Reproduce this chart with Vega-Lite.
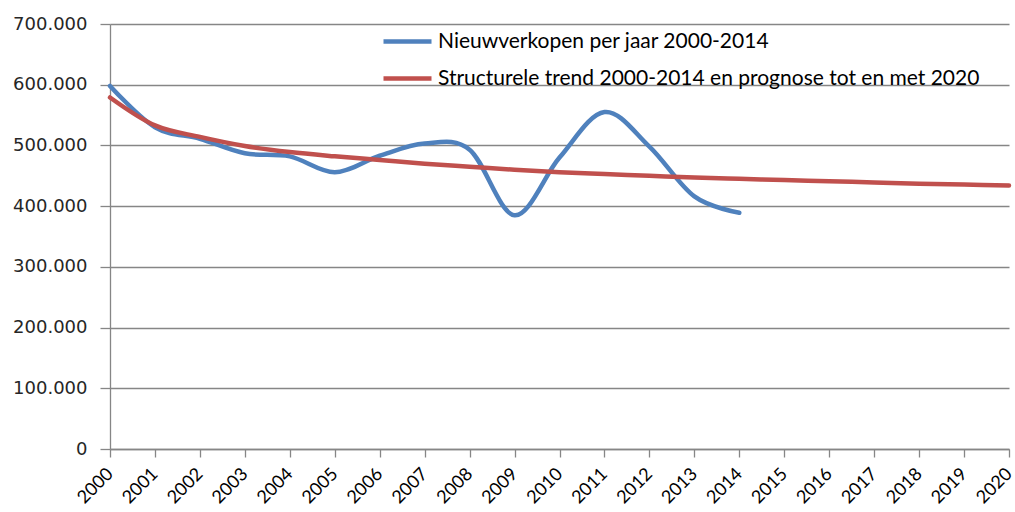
{
  "$schema": "https://vega.github.io/schema/vega-lite/v6.json",
  "autosize": "none",
  "width": 899,
  "height": 425,
  "padding": {"left": 110, "top": 24, "right": 6, "bottom": 63},
  "background": "white",
  "config": {
    "view": {"stroke": null},
    "locale": {"number": {"decimal": ",", "thousands": ".", "grouping": [3], "currency": ["€", ""]}}
  },
  "data": {
    "values": [
      {"year": 2000, "value": 598000, "series": "Nieuwverkopen per jaar 2000-2014"},
      {"year": 2001, "value": 530000, "series": "Nieuwverkopen per jaar 2000-2014"},
      {"year": 2002, "value": 511000, "series": "Nieuwverkopen per jaar 2000-2014"},
      {"year": 2003, "value": 487000, "series": "Nieuwverkopen per jaar 2000-2014"},
      {"year": 2004, "value": 482000, "series": "Nieuwverkopen per jaar 2000-2014"},
      {"year": 2005, "value": 456000, "series": "Nieuwverkopen per jaar 2000-2014"},
      {"year": 2006, "value": 483000, "series": "Nieuwverkopen per jaar 2000-2014"},
      {"year": 2007, "value": 503000, "series": "Nieuwverkopen per jaar 2000-2014"},
      {"year": 2008, "value": 493000, "series": "Nieuwverkopen per jaar 2000-2014"},
      {"year": 2009, "value": 385000, "series": "Nieuwverkopen per jaar 2000-2014"},
      {"year": 2010, "value": 480000, "series": "Nieuwverkopen per jaar 2000-2014"},
      {"year": 2011, "value": 555000, "series": "Nieuwverkopen per jaar 2000-2014"},
      {"year": 2012, "value": 498000, "series": "Nieuwverkopen per jaar 2000-2014"},
      {"year": 2013, "value": 416000, "series": "Nieuwverkopen per jaar 2000-2014"},
      {"year": 2014, "value": 389000, "series": "Nieuwverkopen per jaar 2000-2014"},
      {"year": 2000, "value": 579000, "series": "Structurele trend 2000-2014 en prognose tot en met 2020"},
      {"year": 2001, "value": 533000, "series": "Structurele trend 2000-2014 en prognose tot en met 2020"},
      {"year": 2002, "value": 514000, "series": "Structurele trend 2000-2014 en prognose tot en met 2020"},
      {"year": 2003, "value": 499000, "series": "Structurele trend 2000-2014 en prognose tot en met 2020"},
      {"year": 2004, "value": 489000, "series": "Structurele trend 2000-2014 en prognose tot en met 2020"},
      {"year": 2005, "value": 482000, "series": "Structurele trend 2000-2014 en prognose tot en met 2020"},
      {"year": 2006, "value": 476000, "series": "Structurele trend 2000-2014 en prognose tot en met 2020"},
      {"year": 2007, "value": 470000, "series": "Structurele trend 2000-2014 en prognose tot en met 2020"},
      {"year": 2008, "value": 465000, "series": "Structurele trend 2000-2014 en prognose tot en met 2020"},
      {"year": 2009, "value": 460000, "series": "Structurele trend 2000-2014 en prognose tot en met 2020"},
      {"year": 2010, "value": 456000, "series": "Structurele trend 2000-2014 en prognose tot en met 2020"},
      {"year": 2011, "value": 453000, "series": "Structurele trend 2000-2014 en prognose tot en met 2020"},
      {"year": 2012, "value": 450000, "series": "Structurele trend 2000-2014 en prognose tot en met 2020"},
      {"year": 2013, "value": 447000, "series": "Structurele trend 2000-2014 en prognose tot en met 2020"},
      {"year": 2014, "value": 445000, "series": "Structurele trend 2000-2014 en prognose tot en met 2020"},
      {"year": 2015, "value": 443000, "series": "Structurele trend 2000-2014 en prognose tot en met 2020"},
      {"year": 2016, "value": 441000, "series": "Structurele trend 2000-2014 en prognose tot en met 2020"},
      {"year": 2017, "value": 439000, "series": "Structurele trend 2000-2014 en prognose tot en met 2020"},
      {"year": 2018, "value": 437000, "series": "Structurele trend 2000-2014 en prognose tot en met 2020"},
      {"year": 2019, "value": 435500, "series": "Structurele trend 2000-2014 en prognose tot en met 2020"},
      {"year": 2020, "value": 434000, "series": "Structurele trend 2000-2014 en prognose tot en met 2020"}
    ]
  },
  "mark": {"type": "line", "interpolate": "cardinal", "tension": 0, "strokeWidth": 4.5, "strokeCap": "round", "clip": false},
  "encoding": {
    "x": {
      "field": "year", "type": "quantitative",
      "scale": {"domain": [2000, 2020], "nice": false, "zero": false},
      "axis": {
        "title": null,
        "values": [2000,2001,2002,2003,2004,2005,2006,2007,2008,2009,2010,2011,2012,2013,2014,2015,2016,2017,2018,2019,2020],
        "format": "d",
        "grid": false,
        "domainColor": "#868686",
        "domainWidth": 1.3,
        "tickColor": "#868686",
        "tickSize": 8,
        "tickWidth": 1.3,
        "labelAngle": -45,
        "labelAlign": "right",
        "labelBaseline": "middle",
        "labelFont": "Lato",
        "labelFontSize": 18,
        "labelColor": "#000000",
        "labelPadding": 14,
        "labelOverlap": false,
        "labelFlush": false
      }
    },
    "y": {
      "field": "value", "type": "quantitative",
      "scale": {"domain": [0, 700000], "nice": false},
      "axis": {
        "title": null,
        "values": [0,100000,200000,300000,400000,500000,600000,700000],
        "format": ",d",
        "grid": true,
        "gridColor": "#868686",
        "gridWidth": 1.3,
        "domainColor": "#868686",
        "domainWidth": 1.3,
        "tickColor": "#868686",
        "tickSize": 10,
        "tickWidth": 1.3,
        "labelFont": "DejaVu Sans",
        "labelFontSize": 18,
        "labelColor": "#262626",
        "labelPadding": 13
      }
    },
    "color": {
      "field": "series", "type": "nominal",
      "scale": {
        "domain": ["Nieuwverkopen per jaar 2000-2014", "Structurele trend 2000-2014 en prognose tot en met 2020"],
        "range": ["#4F81BD", "#C0504D"]
      },
      "legend": {
        "title": null,
        "orient": "none",
        "legendX": 271,
        "legendY": -9,
        "symbolType": "stroke",
        "symbolSize": 2304,
        "symbolStrokeWidth": 4.5,
        "labelFont": "Lato",
        "labelFontSize": 21,
        "labelColor": "#000000",
        "labelOffset": 4,
        "rowPadding": -16,
        "labelLimit": 700,
        "padding": 0
      }
    }
  }
}
